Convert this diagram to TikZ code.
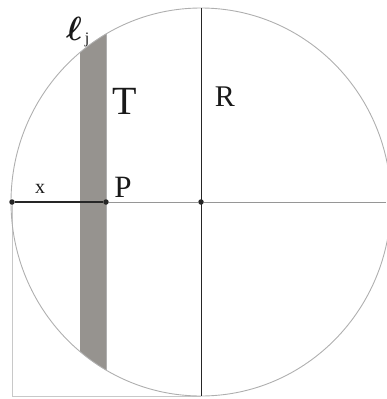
\documentclass[tikz,border=0pt]{standalone}
\usepackage{fontspec}
\usepackage{bm}
\setmainfont{Liberation Serif}
\begin{document}
\begin{tikzpicture}[x=1pt,y=-1pt,
  dot/.style={circle,fill=black!85,inner sep=0pt,minimum size=5.5pt},
  lbl/.style={inner sep=0pt,text=black!90},
  thinline/.style={line width=0.9pt}]
\useasboundingbox (0,0) rectangle (386,399);
% strip
\begin{scope}
  \clip (201,202) ellipse [x radius=190, y radius=194];
  \fill[fill={rgb,255:red,150;green,147;blue,143}] (80,0) rectangle (106,399);
  \draw[thinline,color={rgb,255:red,175;green,175;blue,175}] (106,0) -- (106,399);
\end{scope}
% rectangle
\draw[thinline,color={rgb,255:red,200;green,200;blue,200}] (12,202) -- (12,396) -- (201,396);
% circle
\draw[thinline,color={rgb,255:red,175;green,175;blue,175}] (201,202) ellipse [x radius=190, y radius=194];
% points
\node[dot] (A) at (12,202) {};
\node[dot] (P) at (106,202) {};
\node[dot] (O) at (201,202) {};
\coordinate (E) at (386,202);
\coordinate (Top) at (201,8);
\coordinate (Bot) at (201,396);
\draw[thinline,color={rgb,255:red,150;green,150;blue,150}] (P) -- (O) -- (E);
\draw[line width=1.8pt,color=black!85] (A) -- (P);
\draw[line width=1pt,color=black!85] (Top) -- (Bot);
% labels
\node[lbl,font=\fontsize{20}{20}\selectfont] (xl) at (40,189) {x};
\node[lbl,font=\fontsize{31}{31}\selectfont] (Pl) at (123,187) {P};
\node[lbl,font=\fontsize{40}{40}\selectfont] (Tl) at (125,101) {T};
\node[lbl,font=\fontsize{30}{30}\selectfont] (Rl) at (225,97) {R};
\node[lbl,font=\fontsize{24}{24}\selectfont,scale=1.35] (ell) at (74,29) {$\bm{\ell}$};
\node[lbl,font=\fontsize{16}{16}\selectfont] (jl) at (87,40) {j};
\end{tikzpicture}
\end{document}
